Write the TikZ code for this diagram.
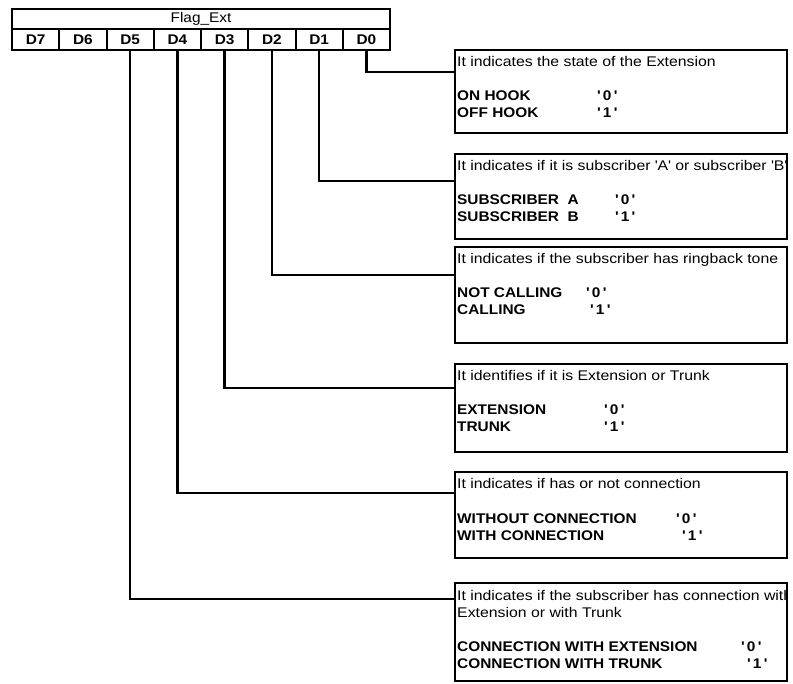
\documentclass[tikz,border=0pt]{standalone}
\usepackage{fontspec}
\setmainfont{Liberation Sans}[FakeStretch=1.1]
\newfontfamily\descfont{Liberation Sans}[FakeStretch=1.13]
\usetikzlibrary{positioning}
\newcommand{\sq}{\textquotesingle}

\begin{document}
\begin{tikzpicture}[x=1pt, y=-1pt,
    cell/.style={draw, line width=2pt, inner sep=0pt, outer sep=0pt, minimum height=20.5pt, font=\fontsize{14}{17}\selectfont},
    bitcell/.style={cell, minimum width=47.25pt, font=\fontsize{14}{17}\selectfont\bfseries},
    infobox/.style={draw, line width=2.4pt, inner sep=0pt, outer sep=0pt, minimum width=332pt, anchor=north west},
    desc/.style={anchor=base west, inner sep=0pt, font=\fontsize{14}{17}\selectfont\descfont},
    opt/.style={desc, font=\fontsize{14}{17}\selectfont\bfseries},
    link/.style={draw, line width=2.4pt}]
  \useasboundingbox (0,0) rectangle (793,684);

  % register
  \node[cell, minimum width=378pt, anchor=north west] (flag) at (12,9) {Flag\_Ext};
  \node[bitcell, anchor=north east] (d0) at (flag.south east) {D0};
  \foreach \i [count=\j from 0] in {1,...,7}
    \node[bitcell, left=0pt of d\j] (d\i) {D\i};

  % description boxes
  \node[infobox, minimum height=83pt] (b0) at (455,50) {};
  \node[infobox, minimum height=85pt] (b1) at (455,154) {};
  \node[infobox, minimum height=96pt] (b2) at (455,247) {};
  \node[infobox, minimum height=88pt] (b3) at (455,364) {};
  \node[infobox, minimum height=86pt] (b4) at (455,472) {};
  \node[infobox, minimum height=98pt] (b5) at (455,583) {};

  \begin{scope}
    \path[clip] (flag.north west) rectangle ([xshift=-1.2pt]b5.south east);
    \node[desc] (b0t) at ([shift={(2,17)}]b0.north west) {It indicates the state of the Extension};
    \node[opt] (b0a) at ([shift={(2,51)}]b0.north west) {\makebox[140pt][l]{ON HOOK}\sq\,0\,\sq};
    \node[opt] (b0b) at ([shift={(2,68)}]b0.north west) {\makebox[140pt][l]{OFF HOOK}\sq\,1\,\sq};

    \node[desc] (b1t) at ([shift={(2,17)}]b1.north west) {It indicates if it is subscriber \sq A\sq{} or subscriber \sq B\sq};
    \node[opt] (b1a) at ([shift={(2,51)}]b1.north west) {\makebox[158pt][l]{SUBSCRIBER\ \ A}\sq\,0\,\sq};
    \node[opt] (b1b) at ([shift={(2,68)}]b1.north west) {\makebox[158pt][l]{SUBSCRIBER\ \ B}\sq\,1\,\sq};

    \node[desc] (b2t) at ([shift={(2,17)}]b2.north west) {It indicates if the subscriber has ringback tone};
    \node[opt] (b2a) at ([shift={(2,51)}]b2.north west) {\makebox[129pt][l]{NOT CALLING}\sq\,0\,\sq};
    \node[opt] (b2b) at ([shift={(2,68)}]b2.north west) {\makebox[133pt][l]{CALLING}\sq\,1\,\sq};

    \node[desc] (b3t) at ([shift={(2,17)}]b3.north west) {It identifies if it is Extension or Trunk};
    \node[opt] (b3a) at ([shift={(2,51)}]b3.north west) {\makebox[147pt][l]{EXTENSION}\sq\,0\,\sq};
    \node[opt] (b3b) at ([shift={(2,68)}]b3.north west) {\makebox[147pt][l]{TRUNK}\sq\,1\,\sq};

    \node[desc] (b4t) at ([shift={(2,17)}]b4.north west) {It indicates if has or not connection};
    \node[opt] (b4a) at ([shift={(2,51)}]b4.north west) {\makebox[219pt][l]{WITHOUT CONNECTION}\sq\,0\,\sq};
    \node[opt] (b4b) at ([shift={(2,68)}]b4.north west) {\makebox[225pt][l]{WITH CONNECTION}\sq\,1\,\sq};

    \node[desc] (b5t) at ([shift={(2,17)}]b5.north west) {It indicates if the subscriber has connection with};
    \node[desc] (b5u) at ([shift={(2,34)}]b5.north west) {Extension or with Trunk};
    \node[opt] (b5a) at ([shift={(2,68)}]b5.north west) {\makebox[284pt][l]{CONNECTION WITH EXTENSION}\sq\,0\,\sq};
    \node[opt] (b5b) at ([shift={(2,85)}]b5.north west) {\makebox[290pt][l]{CONNECTION WITH TRUNK}\sq\,1\,\sq};
  \end{scope}

  % bit to box links
  \draw[link] (d0.south) |- ([yshift=-22pt]b0.north west);
  \draw[link] (d1.south) |- ([yshift=-27pt]b1.north west);
  \draw[link] (d2.south) |- ([yshift=-28pt]b2.north west);
  \draw[link] (d3.south) |- ([yshift=-24pt]b3.north west);
  \draw[link] (d4.south) |- ([yshift=-21pt]b4.north west);
  \draw[link] (d5.south) |- ([yshift=-16pt]b5.north west);
\end{tikzpicture}
\end{document}
